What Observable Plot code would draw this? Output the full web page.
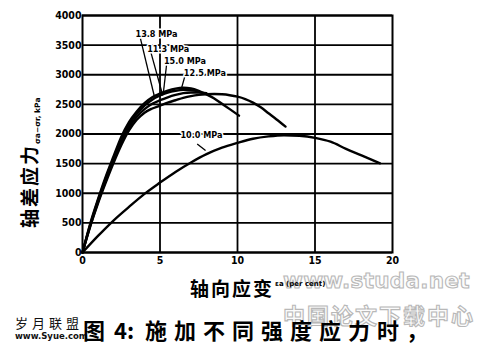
<!DOCTYPE html>
<html><head><meta charset="utf-8">
<script src="https://cdn.jsdelivr.net/npm/d3@7"></script>
<script src="https://cdn.jsdelivr.net/npm/@observablehq/plot@0.6"></script>
<style>
body{margin:0;background:#fff;width:500px;height:350px;overflow:hidden;position:relative;font-family:"Noto Sans CJK SC",sans-serif}
#chart{position:absolute;left:0;top:0;z-index:2}
.abs{position:absolute;white-space:nowrap;line-height:1}
.wm{color:#fbfbfb;-webkit-text-stroke:1.1px #b8b8b8;font-weight:700;z-index:1}
.fg{z-index:3;color:#000}
</style></head><body>
<div class="abs wm" style="left:283px;top:270px;font-family:'DejaVu Sans';font-size:21.5px;letter-spacing:0.3px">www.studa.net</div>
<div class="abs wm" style="left:283px;top:303px;font-size:22px;letter-spacing:2px">中国论文下载中心</div>
<div id="chart"></div>
<div class="abs fg" style="left:15px;top:316px;font-size:13px;letter-spacing:4px;color:#111">岁月联盟</div>
<div class="abs fg" style="left:15px;top:332px;font-family:'DejaVu Sans';font-size:8.5px;font-weight:700;color:#111">www.Syue.com</div>
<div class="abs fg" style="left:83px;top:318px;font-size:22px;font-weight:700">图</div>
<div class="abs fg" style="left:114px;top:318px;font-size:22px;font-weight:700">4:</div>
<div class="abs fg" style="left:145px;top:318px;font-size:22px;font-weight:700;letter-spacing:7px">施加不同强度应力时，</div>
<script>
// ---- data ----
const xTicks = [0, 5, 10, 15, 20];
const yTicks = [0, 500, 1000, 1500, 2000, 2500, 3000, 3500, 4000];

const strain150 = [0,0.5,1,1.5,2,2.5,3,3.5,4,4.5,5,5.5,6,6.5,7,7.5,8,8.5,9,9.5,10.1];
const stress150 = [0,490,900,1280,1620,1950,2200,2380,2520,2620,2680,2730,2765,2780,2770,2730,2670,2600,2510,2420,2310];

const strain138 = [0,0.5,1,1.5,2,2.5,3,3.5,4,4.5,5,5.5,6,6.5,7,7.5];
const stress138 = [0,470,880,1250,1590,1910,2160,2340,2480,2580,2650,2700,2730,2745,2740,2720];

const strain113 = [0,0.5,1,1.5,2,2.5,3,3.5,4,4.5,5,5.5,6,6.5,7,7.5,8];
const stress113 = [0,450,850,1210,1550,1860,2110,2290,2420,2510,2570,2620,2660,2690,2700,2700,2690];

const strain125 = [0,0.5,1,1.5,2,2.5,3,3.5,4,4.5,5,5.5,6,6.5,7,7.5,8,8.5,9,9.5,10,10.5,11,11.5,12,12.5,13.1];
const stress125 = [0,440,830,1180,1510,1810,2060,2240,2360,2430,2480,2530,2570,2610,2640,2660,2670,2675,2670,2655,2630,2590,2530,2450,2350,2250,2125];

const strain100 = [0,1,2,3,4,5,6,7,8,9,10,11,12,13,14,15,16,17,18,19.2];
const stress100 = [0,280,540,770,990,1180,1360,1520,1660,1770,1850,1920,1960,1980,1970,1935,1870,1750,1640,1505];

const labelText = ["13.8 MPa", "11.3 MPa", "15.0 MPa", "12.5 MPa", "10.0 MPa"];
const labelX    = [3.42, 4.17, 5.25, 6.54, 6.32];
const labelY    = [3688, 3435, 3238, 3024, 1973];
const leadX1 = [3.74, 4.39, 5.42, 6.62, 7.40];
const leadY1 = [3610, 3400, 3160, 2990, 1833];
const leadX2 = [4.65, 5.18, 5.22, 6.38, 7.94];
const leadY2 = [2620, 2650, 2700, 2765, 1720];

// ---- build tables ----
const table = [];
function add(name, xs, ys) { xs.forEach((x, i) => table.push({series: name, strain: x, stress: ys[i]})); }
add("15.0", strain150, stress150);
add("13.8", strain138, stress138);
add("11.3", strain113, stress113);
add("12.5", strain125, stress125);
add("10.0", strain100, stress100);
const labels = labelText.map((t, i) => ({t, x: labelX[i], y: labelY[i]}));
const leaders = leadX1.map((x, i) => ({x1: x, y1: leadY1[i], x2: leadX2[i], y2: leadY2[i]}));

const chart = Plot.plot({
  width: 500, height: 300,
  marginLeft: 82, marginRight: 108, marginTop: 15, marginBottom: 48,
  x: {domain: [0, 20]},
  y: {domain: [0, 4000]},
  style: {fontFamily: "'Liberation Sans Narrow','DejaVu Sans Condensed',sans-serif", fontSize: "10.5px", fontWeight: "bold", color: "#000", background: "transparent"},
  marks: [
    Plot.gridY(yTicks, {stroke: "#000", strokeOpacity: 1, strokeWidth: 1.8}),
    Plot.gridX([5, 10, 15], {stroke: "#000", strokeOpacity: 1, strokeWidth: 1.8}),
    Plot.frame({stroke: "#000", strokeWidth: 2}),
    Plot.axisY(yTicks, {tickSize: 0, tickPadding: 1, tickFormat: d3.format("d"), label: null}),
    Plot.axisX(xTicks, {tickSize: 0, tickPadding: 4, tickFormat: d3.format("d"), label: null}),
    Plot.line(table, {x: "strain", y: "stress", z: "series", stroke: "#000", strokeWidth: 2.4, curve: "monotone-x"}),
    Plot.link(leaders, {x1: "x1", y1: "y1", x2: "x2", y2: "y2", stroke: "#000", strokeWidth: 1.3}),
    Plot.text(labels, {x: "x", y: "y", text: "t", textAnchor: "start", fontSize: 9, fontWeight: "bold",
      fontFamily: "'DejaVu Sans Condensed','DejaVu Sans',sans-serif", fill: "#000", stroke: "#fff", strokeWidth: 3})
  ]
});
document.getElementById("chart").appendChild(chart);

const svg = d3.select(chart);
// y axis title (vertical)
const yt = svg.append("text")
  .attr("transform", "translate(37,228) rotate(-90)")
  .attr("text-anchor", "start")
  .attr("fill", "#000")
  .style("font-family", "'Noto Sans CJK SC',sans-serif");
yt.append("tspan").attr("font-size", 19).attr("font-weight", 700).attr("letter-spacing", 2).text("轴差应力");
yt.append("tspan").attr("font-size", 7.5).attr("font-weight", 700).attr("dy", 3).attr("font-family", "'DejaVu Sans',sans-serif").text("σa−σr, kPa");
// x axis title
const xt = svg.append("text")
  .attr("x", 190).attr("y", 296)
  .attr("text-anchor", "start")
  .attr("fill", "#000")
  .style("font-family", "'Noto Sans CJK SC',sans-serif");
xt.append("tspan").attr("font-size", 19).attr("font-weight", 700).attr("letter-spacing", 2).text("轴向应变");
xt.append("tspan").attr("font-size", 7).attr("font-weight", 700).attr("dy", -10).attr("dx", 1).attr("font-family", "'DejaVu Sans',sans-serif").text("εa (per cent)");
</script>
</body></html>
